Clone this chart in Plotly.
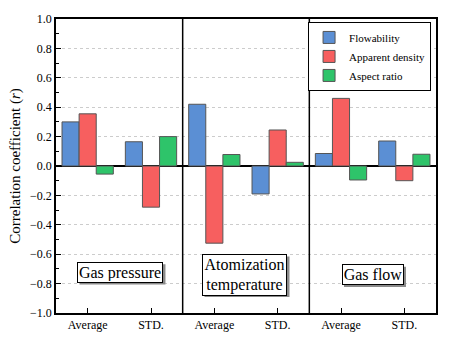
import plotly.graph_objects as go

x_labels = ["Average", "STD.", "Average", "STD.", "Average", "STD."]
x_pos = [0, 1, 2, 3, 4, 5]
flowability = [0.30, 0.165, 0.42, -0.19, 0.085, 0.17]
apparent_density = [0.355, -0.28, -0.525, 0.245, 0.46, -0.10]
aspect_ratio = [-0.055, 0.20, 0.078, 0.025, -0.095, 0.08]
series_names = ["Flowability", "Apparent density", "Aspect ratio"]
colors = ["#5b8fd4", "#f75f5f", "#2ec46a"]
groups = ["Gas pressure", "Atomization<br>temperature", "Gas flow"]
group_x = [0.518, 2.484, 4.505]
group_y = [-0.724, -0.741, -0.741]
box_w = [86, 85, 62]
box_h = [21, 42, 21]
dividers = [1.5, 3.5]

FONT = "Liberation Serif, Times New Roman, serif"
PX_X = 380 / 6.0
PX_Y = 305 / 2.0

fig = go.Figure()
for name, vals, c in zip(series_names, [flowability, apparent_density, aspect_ratio], colors):
    fig.add_trace(go.Bar(x=x_pos, y=vals, name=name, marker=dict(color=c, line=dict(color="#555555", width=1))))

for xd in dividers:
    fig.add_shape(type="line", xref="x", yref="paper", x0=xd, x1=xd, y0=0, y1=1,
                  line=dict(color="black", width=1.5))

for t, gx, gy, w, h in zip(groups, group_x, group_y, box_w, box_h):
    hw = w / 2 / PX_X
    hh = h / 2 / PX_Y
    dx = 2 / PX_X
    dy = 2 / PX_Y
    fig.add_shape(type="rect", xref="x", yref="y", x0=gx - hw + dx, x1=gx + hw + dx,
                  y0=gy - hh - dy, y1=gy + hh - dy, fillcolor="#8a8a8a", line=dict(width=0), layer="above")
    fig.add_annotation(x=gx, y=gy, text=t, showarrow=False, width=w - 4, height=h - 4,
                       font=dict(family=FONT, size=16, color="black"),
                       bgcolor="white", bordercolor="black", borderwidth=1, borderpad=1)

fig.update_layout(
    width=451, height=344,
    margin=dict(l=56, r=15, t=12, b=27),
    plot_bgcolor="white", paper_bgcolor="white",
    barmode="group", bargap=0.19, bargroupgap=0,
    font=dict(family=FONT, size=12, color="black"),
    legend=dict(x=0.987, y=0.99, xanchor="right", yanchor="top",
                bordercolor="black", borderwidth=1, bgcolor="white",
                font=dict(family=FONT, size=11), tracegroupgap=0, itemwidth=30),
    showlegend=True,
)
fig.update_xaxes(range=[-0.5, 5.5], tickvals=x_pos, ticktext=x_labels,
                 ticks="inside", ticklen=5, tickcolor="black",
                 showline=True, linecolor="black", linewidth=1.5, mirror=True,
                 showgrid=False, zeroline=False, tickfont=dict(family=FONT, size=12))
fig.update_yaxes(range=[-1.0, 1.0], dtick=0.2, tickformat=".1f",
                 ticks="inside", ticklen=5, tickcolor="black",
                 minor=dict(ticks="inside", ticklen=3, dtick=0.1, tickcolor="black", showgrid=False),
                 showline=True, linecolor="black", linewidth=1.5, mirror=True,
                 showgrid=True, gridcolor="#cccccc", griddash="dot", gridwidth=1,
                 zeroline=True, zerolinecolor="black", zerolinewidth=1.5,
                 title=dict(text="Correlation coefficient (<i>r</i>)", font=dict(family=FONT, size=15), standoff=6),
                 tickfont=dict(family=FONT, size=12))

fig.write_html("out.html")
